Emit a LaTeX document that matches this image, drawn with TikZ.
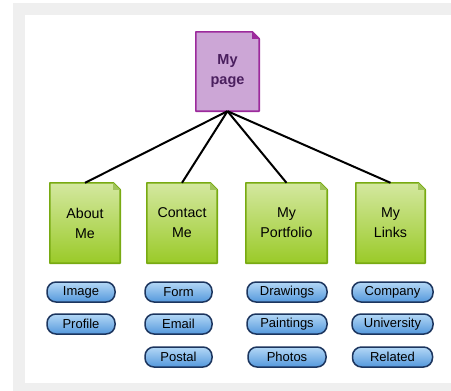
\documentclass[tikz,border=0pt]{standalone}
\usepackage{fontspec}
\setmainfont{Liberation Sans}
\usetikzlibrary{backgrounds}

\definecolor{frame}{HTML}{EFEFEF}
\definecolor{pgfill}{HTML}{CCA6D6}
\definecolor{pgline}{HTML}{9C2A9C}
\definecolor{pgtext}{HTML}{4A1F5E}
\definecolor{grtop}{HTML}{D4E8A0}
\definecolor{grbot}{HTML}{9ACA28}
\definecolor{grline}{HTML}{78AA12}
\definecolor{bltop}{HTML}{B4D8F6}
\definecolor{blbot}{HTML}{5498DC}
\definecolor{blline}{HTML}{1C355E}

\tikzset{
  pagebox/.style={minimum width=63pt, minimum height=79pt, inner sep=0pt,
    align=center, text=pgtext, font=\fontsize{14.5}{20}\selectfont\bfseries},
  sectionbox/.style={minimum width=#1, minimum height=80pt, inner sep=0pt,
    align=center, font=\fontsize{14.2}{20}\selectfont},
  pill/.style={minimum width=#1, minimum height=20pt, inner sep=0pt,
    rounded corners=9pt, draw=blline, line width=1.5pt,
    top color=bltop, bottom color=blbot, font=\fontsize{13}{14}\selectfont},
  link/.style={line width=2pt, black},
}

% folded-corner document outline behind a named node
\newcommand\docoutline[5]{%
  \path[draw=#4, line width=1.6pt, top color=#2, bottom color=#3, line join=round]
    (#1.south west) -- (#1.north west) -- ([xshift=-7pt]#1.north east)
    -- ([yshift=-7pt]#1.north east) -- (#1.south east) -- cycle;
  \fill[#5] ([xshift=-7pt]#1.north east) -- ([xshift=-7pt,yshift=-7pt]#1.north east)
    -- ([yshift=-7pt]#1.north east) -- cycle;
}

\begin{document}
\begin{tikzpicture}[x=1pt, y=-1pt]
  \useasboundingbox (0,0) rectangle (451,391);

  \node[pagebox] (home) at (227.5,71.5) {My\\page};

  \node[sectionbox=70pt] (about) at (85,223) {About\\Me};
  \node[sectionbox=70pt] (contact) at (182,223) {Contact\\Me};
  \node[sectionbox=81pt] (portfolio) at (286.5,223) {My\\Portfolio};
  \node[sectionbox=69pt] (links) at (390.5,223) {My\\Links};

  \begin{pgfonlayer}{background}
    % grey frame round the white canvas
    \fill[frame] (13,3) rectangle (451,391);
    \fill[white] (25,15) rectangle (451,383);
    \docoutline{home}{pgfill}{pgfill}{pgline}{pgline}
    \docoutline{about}{grtop}{grbot}{grline}{grline!70}
    \docoutline{contact}{grtop}{grbot}{grline}{grline!70}
    \docoutline{portfolio}{grtop}{grbot}{grline}{grline!70}
    \docoutline{links}{grtop}{grbot}{grline}{grline!70}
  \end{pgfonlayer}

  \foreach \child in {about,contact,portfolio,links}
    \draw[link] (home.south) -- (\child.north);

  \node[pill=68pt] (image) at (81,292) {Image};
  \node[pill=68pt] (profile) at (81,324) {Profile};

  \node[pill=67pt] (form) at (178.5,292) {Form};
  \node[pill=67pt] (email) at (178.5,324) {Email};
  \node[pill=67pt] (postal) at (178.5,357) {Postal};

  \node[pill=80pt] (drawings) at (287,292) {Drawings};
  \node[pill=80pt] (paintings) at (287,324) {Paintings};
  \node[pill=78pt] (photos) at (287,357) {Photos};

  \node[pill=81pt] (company) at (392.5,292) {Company};
  \node[pill=81pt] (university) at (392.5,324) {University};
  \node[pill=80pt] (related) at (392.5,357) {Related};
\end{tikzpicture}
\end{document}
